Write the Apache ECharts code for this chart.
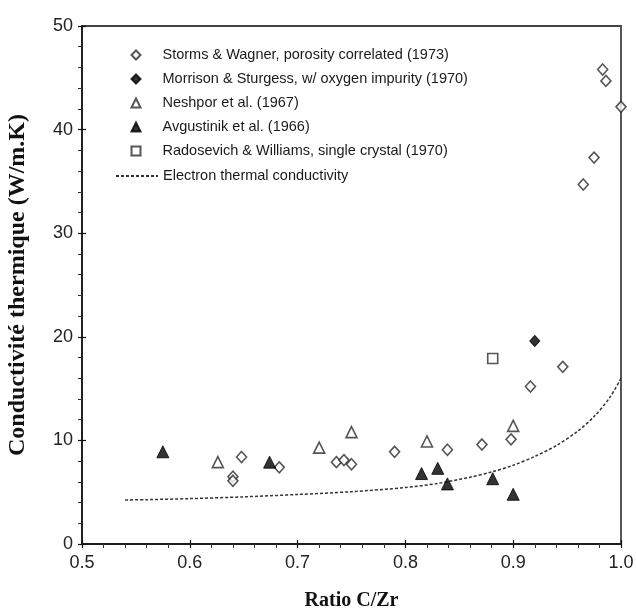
<!DOCTYPE html>
<html><head><meta charset="utf-8">
<script src="https://cdn.jsdelivr.net/npm/echarts@6/dist/echarts.min.js"></script>
<style>html,body{margin:0;padding:0;background:#fff}#c{width:636px;height:610px}</style>
</head><body><div id="c"></div>
<script>
var xTicks = [0.5, 0.6, 0.7, 0.8, 0.9, 1.0];
var yTicks = [0, 10, 20, 30, 40, 50];

var stormsWagner = [[0.640,6.5],[0.640,6.1],[0.648,8.4],[0.683,7.4],[0.736,7.9],[0.743,8.1],[0.750,7.7],[0.790,8.9],[0.839,9.1],[0.871,9.6],[0.898,10.1],[0.916,15.2],[0.946,17.1],[0.965,34.7],[0.975,37.3],[0.983,45.8],[0.986,44.7],[1.000,42.2]];
var morrisonSturgess = [[0.920,19.6]];
var neshpor = [[0.626,7.9],[0.720,9.3],[0.750,10.8],[0.820,9.9],[0.900,11.4]];
var avgustinik = [[0.575,8.9],[0.674,7.9],[0.815,6.8],[0.830,7.3],[0.839,5.8],[0.881,6.3],[0.900,4.8]];
var radosevich = [[0.881,17.9]];
var electronX = [0.54,0.56,0.60,0.65,0.70,0.75,0.80,0.83,0.86,0.88,0.90,0.92,0.94,0.96,0.975,0.99,1.00];
var electronY = [4.25,4.28,4.38,4.55,4.78,5.05,5.45,5.85,6.45,6.95,7.6,8.45,9.5,10.9,12.3,14.2,16.0];

var names = ['Storms & Wagner, porosity correlated (1973)','Morrison & Sturgess, w/ oxygen impurity (1970)','Neshpor et al. (1967)','Avgustinik et al. (1966)','Radosevich & Williams, single crystal (1970)','Electron thermal conductivity'];

var electron = electronX.map(function(x,i){return [x, electronY[i]];});
var ink = '#2a2a2a';
var legendText = {fontFamily:'Liberation Sans, Arial, sans-serif', fontSize:14.5, color:'#1a1a1a', lineHeight:16};

var chart = echarts.init(document.getElementById('c'), null, {renderer:'canvas'});
var axisFont = {fontFamily:'Liberation Sans, Arial, sans-serif', fontSize:18, color:'#222'};
var grid = {left:82, top:26, width:539, height:518, containLabel:false, outerBoundsMode:'none'};
chart.setOption({
  backgroundColor:'#fff',
  animation:false,
  grid:[Object.assign({show:true, borderColor:'#444', borderWidth:1.8, backgroundColor:'transparent'}, grid), Object.assign({}, grid)],
  legend:[{
    data:names.slice(0,5), orient:'vertical', left:125.5, top:42,
    itemWidth:9, itemHeight:9, itemGap:8, symbolKeepAspect:true,
    textStyle:Object.assign({padding:[0,0,0,17]}, legendText),
    selectedMode:false
  },{
    data:[{name:names[5], itemStyle:{opacity:0}}], orient:'vertical', left:110, top:163,
    itemWidth:42, itemHeight:9,
    textStyle:legendText,
    selectedMode:false
  }],
  xAxis:[{
    type:'value', min:0.5, max:1.0, interval:0.1, gridIndex:0,
    name:'Ratio C/Zr', nameLocation:'middle', nameGap:47,
    nameTextStyle:{fontFamily:'Liberation Serif, Times New Roman, serif', fontWeight:'bold', fontSize:20, color:'#111'},
    axisLine:{lineStyle:{color:'#111', width:1.5}},
    axisTick:{length:4, lineStyle:{color:'#111', width:1.2}},
    minorTick:{show:true, splitNumber:5, length:4, lineStyle:{color:'#333'}},
    axisLabel:Object.assign({margin:10, formatter:function(v){return v.toFixed(1);}}, axisFont),
    splitLine:{show:false}
  },{
    type:'value', min:0.5, max:1.0, interval:0.1, gridIndex:1, position:'bottom',
    axisLine:{show:false}, axisLabel:{show:false},
    axisTick:{inside:true, length:4, lineStyle:{color:'#111', width:1.2}},
    splitLine:{show:false}
  }],
  yAxis:[{
    type:'value', min:0, max:50, interval:10, gridIndex:0,
    name:'Conductivité thermique (W/m.K)', nameLocation:'middle', nameGap:52,
    nameTextStyle:{fontFamily:'Liberation Serif, Times New Roman, serif', fontWeight:'bold', fontSize:24, color:'#111'},
    axisLine:{lineStyle:{color:'#111', width:1.5}},
    axisTick:{length:4, lineStyle:{color:'#111', width:1.2}},
    minorTick:{show:true, splitNumber:5, length:4, lineStyle:{color:'#333'}},
    axisLabel:Object.assign({margin:9}, axisFont),
    splitLine:{show:false}
  },{
    type:'value', min:0, max:50, interval:10, gridIndex:1, position:'left',
    axisLine:{show:false}, axisLabel:{show:false},
    axisTick:{inside:true, length:4, lineStyle:{color:'#111', width:1.2}},
    splitLine:{show:false}
  }],
  series:[
    {name:names[0], type:'scatter', data:stormsWagner, symbol:'diamond', symbolSize:[10,11],
      itemStyle:{color:'#fff', borderColor:ink, borderWidth:1.6}, z:3},
    {name:names[1], type:'scatter', data:morrisonSturgess, symbol:'diamond', symbolSize:[10,11],
      itemStyle:{color:'#000', borderColor:'#000', borderWidth:1}, z:3},
    {name:names[2], type:'scatter', data:neshpor, symbol:'triangle', symbolSize:[11,11],
      itemStyle:{color:'#fff', borderColor:ink, borderWidth:1.6}, z:3},
    {name:names[3], type:'scatter', data:avgustinik, symbol:'triangle', symbolSize:[12,12],
      itemStyle:{color:'#000', borderColor:'#000', borderWidth:1}, z:3},
    {name:names[4], type:'scatter', data:radosevich, symbol:'rect', symbolSize:[10,10],
      itemStyle:{color:'#fff', borderColor:ink, borderWidth:1.6}, z:3},
    {name:names[5], type:'line', data:electron, smooth:0.3, symbol:'none', showSymbol:false,
      lineStyle:{color:'#333', width:1.5, type:[3,2]}, itemStyle:{color:'#333'}, z:2}
  ]
});
</script></body></html>
